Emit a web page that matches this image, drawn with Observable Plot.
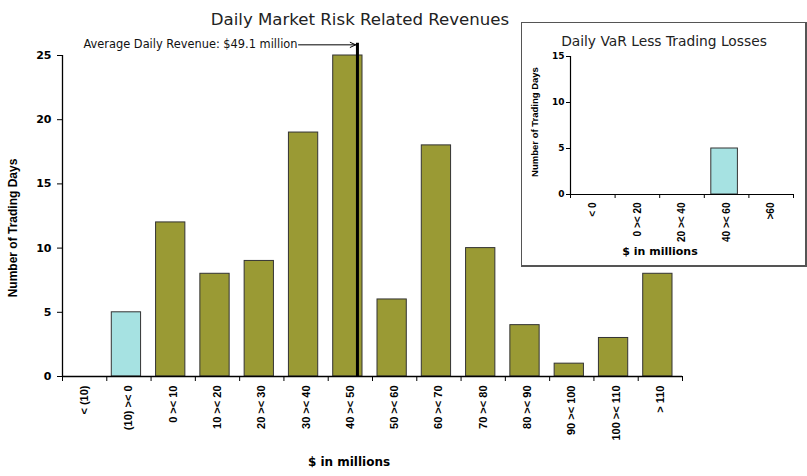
<!DOCTYPE html>
<html>
<head>
<meta charset="utf-8">
<script src="https://cdn.jsdelivr.net/npm/d3@7"></script>
<script src="https://cdn.jsdelivr.net/npm/@observablehq/plot@0.6"></script>
<style>
  html, body { margin: 0; padding: 0; background: #fff; }
  #wrap { position: relative; width: 807px; height: 476px; overflow: hidden; background: #fff; }
  #inset { position: absolute; left: 521px; top: 22px; width: 283px; height: 242px;
           border: 1px solid #555; border-right-width: 2px; border-bottom-width: 2px; background: #fff; }
  svg { display: block; }
</style>
</head>
<body>
<div id="wrap"><div id="main"></div><div id="inset"></div></div>
<script>
// ---- Main chart data ----
const mainLabels = ["< (10)", "(10) >< 0", "0 >< 10", "10 >< 20", "20 >< 30", "30 >< 40", "40 >< 50",
                    "50 >< 60", "60 >< 70", "70 >< 80", "80 >< 90", "90 >< 100", "100 >< 110", "> 110"];
const mainLo   = [-20, -10, 0, 10, 20, 30, 40, 50, 60, 70, 80, 90, 100, 110];
const mainHi   = [-10, 0, 10, 20, 30, 40, 50, 60, 70, 80, 90, 100, 110, 120];
const mainDays = [0, 5, 12, 8, 9, 19, 25, 6, 18, 10, 4, 1, 3, 8];
const mainYTicks = [0, 5, 10, 15, 20, 25];
const mainEdges = [-20, -10, 0, 10, 20, 30, 40, 50, 60, 70, 80, 90, 100, 110, 120];

// average-revenue marker (as drawn in the picture)
const avgText = "Average Daily Revenue: $49.1 million";
const avgLineX = 46.6;
const avgLineTop = 25.95;
const avgArrowFrom = 33.3;
const avgArrowTo = 46.2;
const avgArrowY = 25.83;

// ---- Inset chart data ----
const insetLabels = ["< 0", "0 >< 20", "20 >< 40", "40 >< 60", ">60"];
const insetDays   = [0, 0, 0, 5, 0];
const insetYTicks = [0, 5, 10, 15];

const OLIVE = "#9a9a34";
const CYAN = "#a6e2e2";
const EDGE = "#333";
const BOLD_V = "Liberation Sans, Arial, sans-serif";
const SANS_H = "DejaVu Sans, Verdana, sans-serif";

const mainData = mainLabels.map((label, i) => ({label, lo: mainLo[i], hi: mainHi[i], days: mainDays[i]}));

const mainPlot = Plot.plot({
  width: 807, height: 476,
  marginLeft: 62, marginRight: 125, marginTop: 55, marginBottom: 100,
  x: {domain: [-20, 120], axis: null},
  y: {domain: [0, 25], axis: null},
  color: {type: "identity"},
  marks: [
    Plot.rect(mainData.filter(d => d.days > 0), {
      x1: "lo", x2: "hi", y1: 0, y2: "days",
      fill: d => d.hi <= 0 ? CYAN : OLIVE, stroke: EDGE, strokeWidth: 1,
      insetLeft: 5, insetRight: 10
    }),
    Plot.ruleX([-20], {y1: 0, y2: 25, stroke: "#000", strokeWidth: 1.3}),
    Plot.ruleY([0], {stroke: "#000", strokeWidth: 1.3}),
    Plot.axisY({ticks: mainYTicks, tickSize: 5, tickPadding: 6, label: null,
                fontWeight: "bold", fontSize: 11, fontFamily: SANS_H, stroke: "#000"}),
    Plot.axisX({ticks: mainEdges, tickSize: 5, tickFormat: () => "", label: null, stroke: "#000"}),
    Plot.text(mainData, {
      x: d => (d.lo + d.hi) / 2, y: 0, text: "label", rotate: -90,
      textAnchor: "end", lineAnchor: "middle", dy: 9,
      fontWeight: "bold", fontSize: 11, fontFamily: BOLD_V, fill: "#000"
    }),
    Plot.ruleX([avgLineX], {y1: 0, y2: avgLineTop, stroke: "#000", strokeWidth: 3}),
    Plot.arrow([0], {x1: avgArrowFrom, y1: avgArrowY, x2: avgArrowTo, y2: avgArrowY,
                     stroke: "#000", strokeWidth: 1, headLength: 9, headAngle: 50}),
    Plot.text([avgText], {x: avgArrowFrom, y: avgArrowY, text: d => d, textAnchor: "end",
                          dx: -1, fontSize: 11.4, fontFamily: SANS_H, fill: "#111"})
  ]
});
document.getElementById("main").appendChild(mainPlot);

const ms = d3.select(mainPlot);
ms.append("text").attr("x", 360).attr("y", 25).attr("text-anchor", "middle")
  .attr("font-family", SANS_H).attr("font-size", 16.6).attr("fill", "#222")
  .text("Daily Market Risk Related Revenues");
ms.append("text").attr("transform", "translate(17,228) rotate(-90)").attr("text-anchor", "middle")
  .attr("font-family", BOLD_V).attr("font-weight", "bold").attr("font-size", 12).attr("fill", "#000")
  .text("Number of Trading Days");
ms.append("text").attr("x", 349).attr("y", 466).attr("text-anchor", "middle")
  .attr("font-family", SANS_H).attr("font-weight", "bold").attr("font-size", 12).attr("fill", "#000")
  .text("$ in millions");

// ---- Inset ----
const insetData = insetLabels.map((label, i) => ({label, i, days: insetDays[i]}));
const insetPlot = Plot.plot({
  width: 283, height: 242,
  marginLeft: 48, marginRight: 12, marginTop: 33, marginBottom: 71,
  x: {domain: [0, 5], axis: null},
  y: {domain: [0, 15], axis: null},
  color: {type: "identity"},
  marks: [
    Plot.rect(insetData.filter(d => d.days > 0), {
      x1: "i", x2: d => d.i + 1, y1: 0, y2: "days",
      fill: CYAN, stroke: EDGE, strokeWidth: 1, insetLeft: 7, insetRight: 11
    }),
    Plot.ruleX([0], {y1: 0, y2: 15, stroke: "#000", strokeWidth: 1.2}),
    Plot.ruleY([0], {stroke: "#000", strokeWidth: 1.2}),
    Plot.axisY({ticks: insetYTicks, tickSize: 4, tickPadding: 2, label: null,
                fontWeight: "bold", fontSize: 9, fontFamily: SANS_H, stroke: "#000"}),
    Plot.axisX({ticks: [0, 1, 2, 3, 4, 5], tickSize: 4, tickFormat: () => "", label: null, stroke: "#000"}),
    Plot.text(insetData, {
      x: d => d.i + 0.5, y: 0, text: "label", rotate: -90,
      textAnchor: "end", lineAnchor: "middle", dy: 8,
      fontWeight: "bold", fontSize: 10, fontFamily: BOLD_V, fill: "#000"
    })
  ]
});
document.getElementById("inset").appendChild(insetPlot);
const is = d3.select(insetPlot);
is.append("text").attr("x", 142).attr("y", 23).attr("text-anchor", "middle")
  .attr("font-family", SANS_H).attr("font-size", 13.8).attr("fill", "#222")
  .text("Daily VaR Less Trading Losses");
is.append("text").attr("transform", "translate(16,99) rotate(-90)").attr("text-anchor", "middle")
  .attr("font-family", BOLD_V).attr("font-weight", "bold").attr("font-size", 9.5).attr("fill", "#000")
  .text("Number of Trading Days");
is.append("text").attr("x", 138).attr("y", 232).attr("text-anchor", "middle")
  .attr("font-family", SANS_H).attr("font-weight", "bold").attr("font-size", 11).attr("fill", "#000")
  .text("$ in millions");
</script>
</body>
</html>
